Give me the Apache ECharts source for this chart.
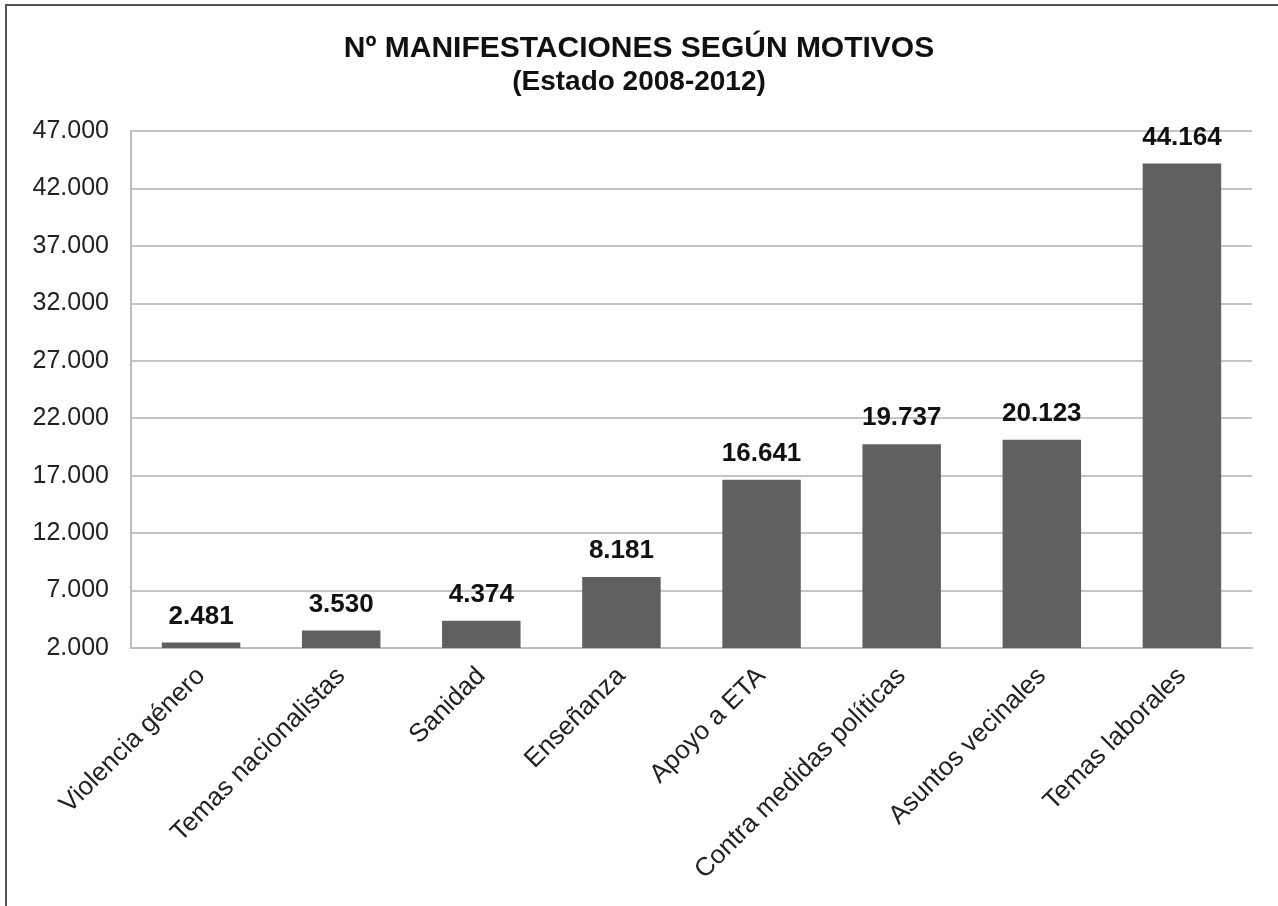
<!DOCTYPE html>
<html>
<head>
<meta charset="utf-8">
<script src="https://cdn.jsdelivr.net/npm/echarts@6/dist/echarts.min.js"></script>
<style>
html,body{margin:0;padding:0;background:#fff;}
#chart{width:1278px;height:906px;}
</style>
</head>
<body>
<div id="chart"></div>
<script>
const categories = ['Violencia género','Temas nacionalistas','Sanidad','Enseñanza','Apoyo a ETA','Contra medidas políticas','Asuntos vecinales','Temas laborales'];
const values = [2481, 3530, 4374, 8181, 16641, 19737, 20123, 44164];
const titleText = 'Nº MANIFESTACIONES SEGÚN MOTIVOS';
const subtitleText = '(Estado 2008-2012)';
const yMin = 2000, yMax = 47000, yStep = 5000;

function fmt(v){ return String(Math.round(v)).replace(/\B(?=(\d{3})+(?!\d))/g,'.'); }

const FONT = 'Liberation Sans, Arial, sans-serif';
const chart = echarts.init(document.getElementById('chart'));
chart.setOption({
  backgroundColor:'#fff',
  animation:false,
  graphic:[{type:'rect',shape:{x:6,y:5,width:1400,height:1000},style:{fill:'none',stroke:'#555',lineWidth:2},z:-1}],
  title:{
    text:titleText, subtext:subtitleText, left:'center', top:29, itemGap:4,
    textStyle:{fontFamily:FONT,fontSize:30,fontWeight:'bold',color:'#111'},
    subtextStyle:{fontFamily:FONT,fontSize:28,fontWeight:'bold',color:'#111'}
  },
  grid:{left:131,right:26,top:131,bottom:258,containLabel:false},
  xAxis:{
    type:'category', data:categories,
    axisLine:{lineStyle:{color:'#bdbdbd',width:2}},
    axisTick:{show:false},
    axisLabel:{rotate:45,interval:0,margin:24,fontFamily:FONT,fontSize:26,color:'#222'}
  },
  yAxis:{
    type:'value', min:yMin, max:yMax, interval:yStep,
    axisLine:{show:true,lineStyle:{color:'#bdbdbd',width:2}},
    axisTick:{show:false},
    splitLine:{lineStyle:{color:'#c4c4c4',width:2}},
    axisLabel:{formatter:fmt,margin:22,fontFamily:FONT,fontSize:25,color:'#222'}
  },
  series:[{
    type:'bar', data:values, barWidth:'56%',
    itemStyle:{color:'#606060'},
    label:{show:true,position:'top',distance:13,formatter:p=>fmt(p.value),fontFamily:FONT,fontSize:26,fontWeight:'bold',color:'#111'}
  }]
});
</script>
</body>
</html>
